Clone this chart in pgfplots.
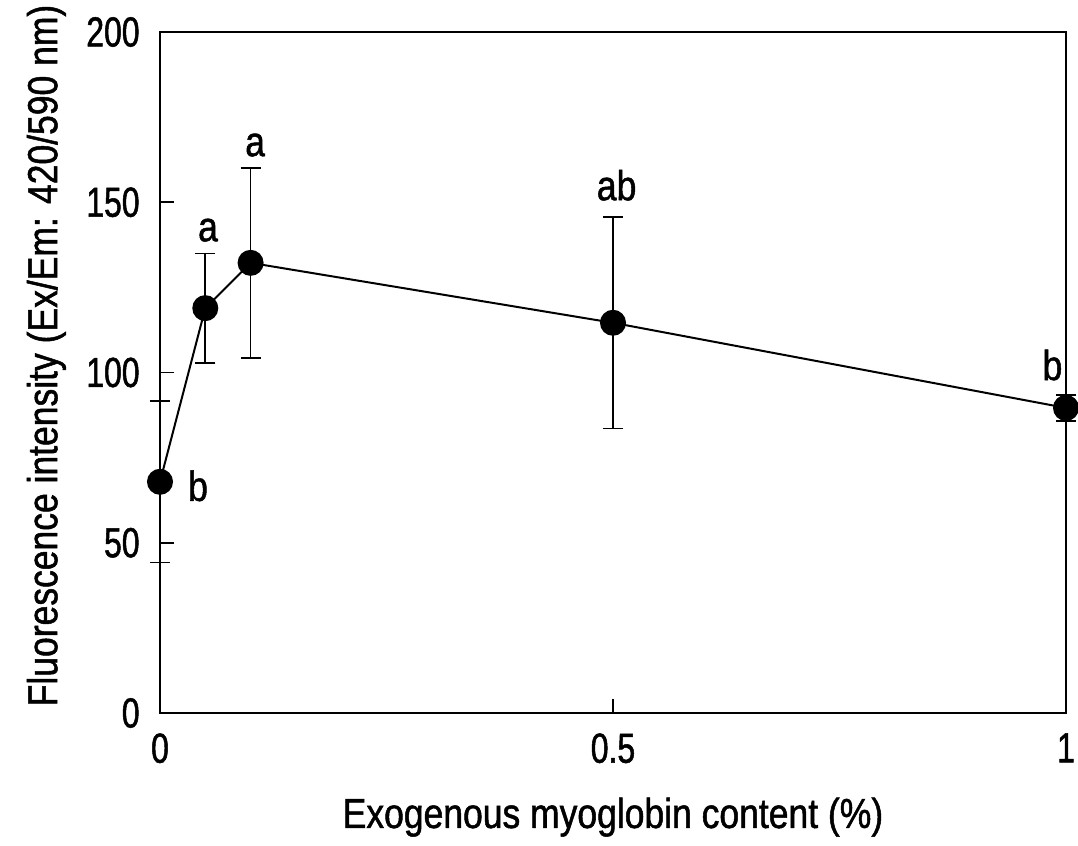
\documentclass[border=0pt]{standalone}
\usepackage{fontspec}
\setmainfont{Liberation Sans}[FakeStretch=0.845,FakeBold=1.2]
\newfontfamily\tickfont{Liberation Sans}[FakeStretch=0.76,FakeBold=1.2]
\usepackage{pgfplots}
\pgfplotsset{compat=1.18}

\begin{document}
\fontsize{21}{25}\selectfont
\begin{tikzpicture}
\begin{axis}[
  name=ax,
  width=453pt, height=340.5pt,
  scale only axis,
  xmin=0, xmax=1, ymin=0, ymax=200,
  xtick={0,0.5,1}, ytick={0,50,100,150,200},
  xticklabels={0,0.5,1},
  tick align=inside,
  xtick pos=bottom, ytick pos=left,
  major tick length=7pt,
  tick style={black, line width=0.8pt},
  axis line style={line width=1.4pt},
  /pgf/number format/assume math mode=true,
  tick label style={font=\tickfont\fontsize{21}{25}\selectfont},
  xticklabel style={yshift=-3pt},
  yticklabel style={xshift=-3pt},
  label style={font=\fontsize{21}{25}\selectfont},
  xlabel={Exogenous myoglobin content (\%)},
  ylabel={Fluorescence intensity (Ex/Em: 420/590 nm)},
  xlabel style={yshift=-3pt},
  ylabel style={at={(ticklabel cs:0.525)}, yshift=-4pt},
  clip=false,
]
\addplot[black, line width=1pt, mark=*, mark size=6pt,
  mark options={fill=black, draw=black},
  error bars/.cd, y dir=both, y explicit,
  error bar style={line width=0.8pt},
  error mark options={rotate=90, mark size=5pt, line width=0.8pt}]
  coordinates {
  (0,    67.9)  +- (0, 23.7)
  (0.05, 118.9) +- (0, 16.1)
  (0.1,  132.2) +- (0, 27.9)
  (0.5,  114.6) +- (0, 31.0)
  (1,    89.6)  +- (0, 3.8)
};
\node at (axis cs:0.042,66.7) {b};
\node at (axis cs:0.053,141.8) {a};
\node at (axis cs:0.105,166.8) {a};
\node at (axis cs:0.504,155) {ab};
\node at (axis cs:0.985,102.2) {b};
\end{axis}
\pgfresetboundingbox
\path ([xshift=-80pt,yshift=-66.5pt]ax.south west) rectangle ([xshift=6pt,yshift=16pt]ax.north east);
\end{tikzpicture}
\end{document}
